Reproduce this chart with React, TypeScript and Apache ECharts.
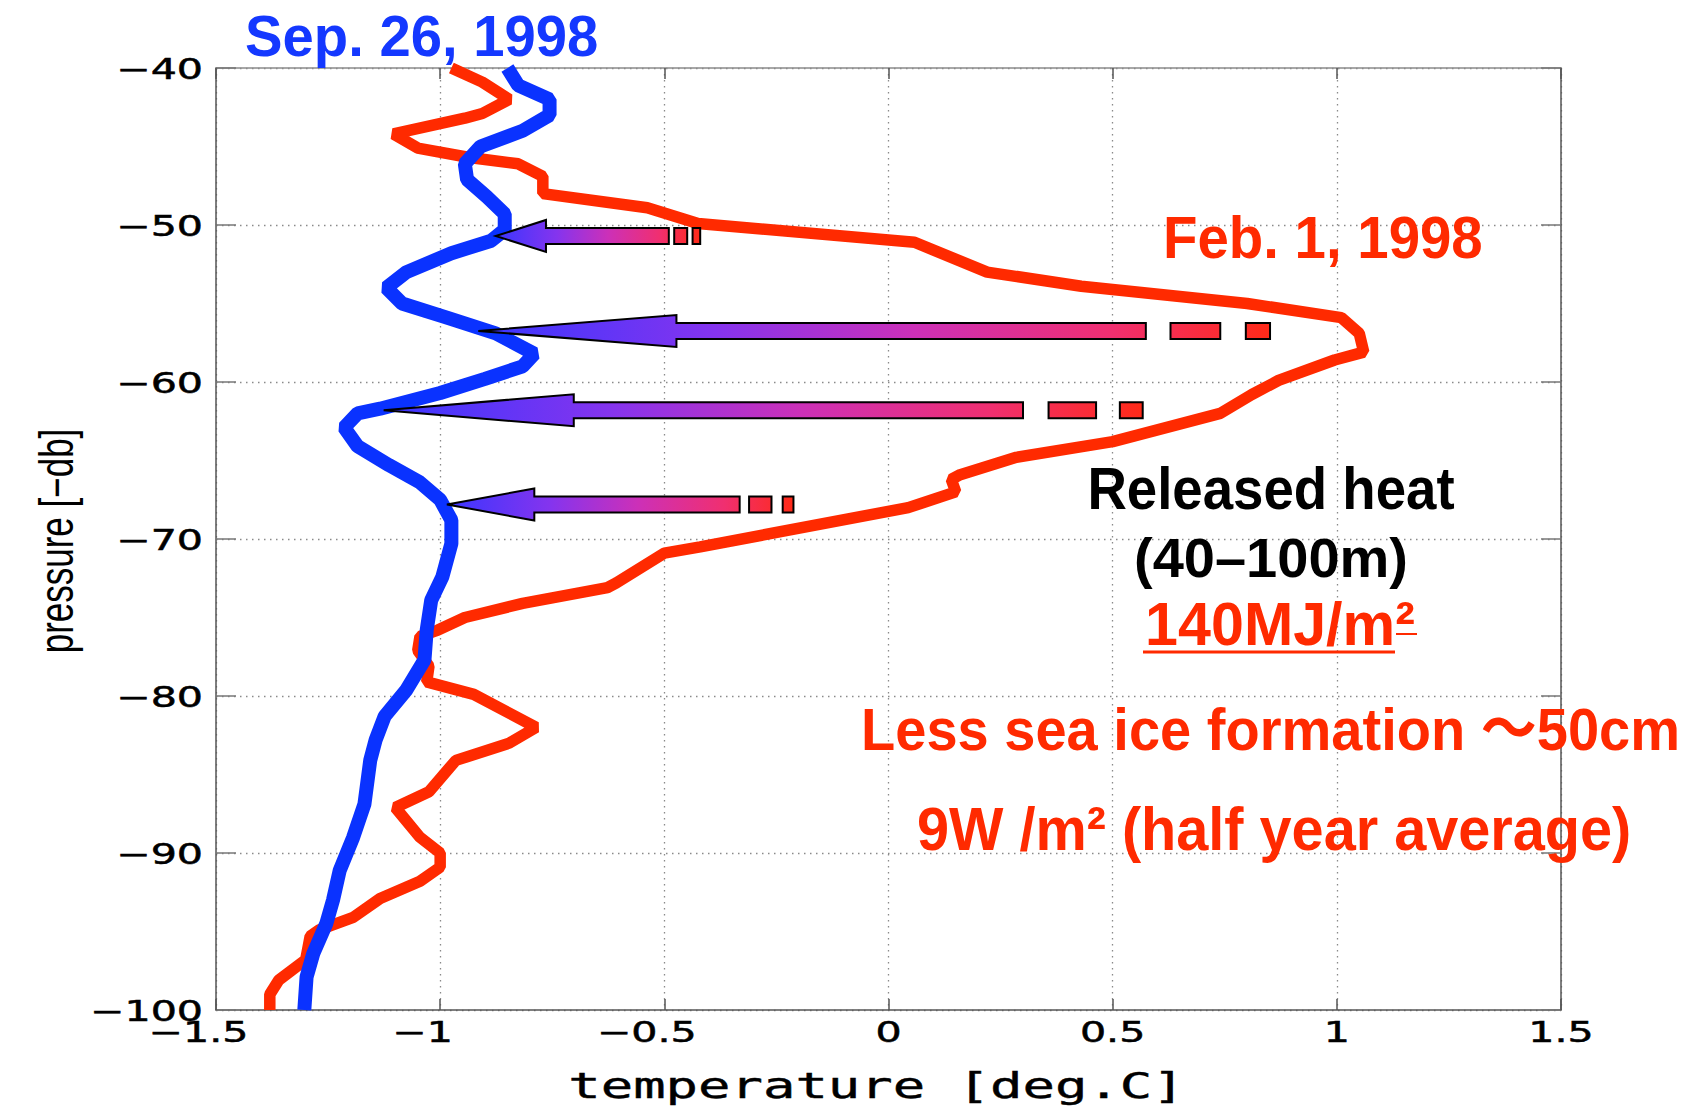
import React, { useEffect, useRef } from "react";
import * as echarts from "echarts";

// ---- axis ticks ----
const xTickValues = [-1.5, -1, -0.5, 0, 0.5, 1, 1.5];
const yTickValues = [-40, -50, -60, -70, -80, -90, -100];

// ---- Feb. 1, 1998 profile (red) ----
const febTemperature = [
  -0.975, -0.906, -0.846, -0.906, -0.945, -1.104, -1.05, -0.935, -0.826, -0.771,
  -0.771, -0.538, -0.425, 0.058, 0.22, 0.43, 0.8, 1.01, 1.05, 1.06,
  0.995, 0.87, 0.81, 0.74, 0.5, 0.285, 0.16, 0.14, 0.15, 0.044,
  -0.42, -0.5, -0.607, -0.627, -0.816, -0.945, -1.005, -1.045, -1.05, -1.025,
  -1.03, -0.925, -0.786, -0.846, -0.965, -1.025, -1.1, -1.045, -1.0, -1.0,
  -1.045, -1.134, -1.194, -1.27, -1.29, -1.3, -1.36, -1.38, -1.38,
];
const febPressure = [
  -40, -40.9, -42, -42.9, -43.2, -44.2, -45.1, -45.7, -46.1, -46.9,
  -48, -48.9, -49.9, -51.1, -53, -53.9, -55, -55.9, -56.9, -58.1,
  -58.6, -59.9, -60.8, -62, -63.8, -64.8, -65.9, -66.2, -67.0, -68.0,
  -70.5, -70.9, -72.8, -73.1, -74.1, -75.0, -75.8, -76.2, -77.1, -78.1,
  -79.1, -79.9, -82.0, -83.0, -84.1, -86.1, -87.1, -89.0, -90.0, -90.9,
  -91.8, -92.9, -94.1, -94.9, -95.3, -96.8, -98.1, -99.0, -100,
];

// ---- Sep. 26, 1998 profile (blue) ----
const sepTemperature = [
  -0.85, -0.826, -0.756, -0.756, -0.816, -0.91, -0.945, -0.94, -0.896, -0.856,
  -0.856, -0.886, -0.975, -1.075, -1.12, -1.085, -0.985, -0.876, -0.79, -0.816,
  -0.9, -1.0, -1.134, -1.184, -1.214, -1.184, -1.114, -1.045, -1.0, -0.975,
  -0.975, -0.995, -1.02, -1.03, -1.035, -1.075, -1.124, -1.144, -1.156, -1.169,
  -1.194, -1.224, -1.239, -1.254, -1.283, -1.298, -1.303,
];
const sepPressure = [
  -40, -41.1, -42, -43, -44, -45, -46.1, -47.1, -48.2, -49.3,
  -50.3, -51, -51.8, -53, -54, -55, -55.9, -56.9, -58.2, -59,
  -59.8, -60.7, -61.7, -62, -62.9, -64.1, -65.3, -66.4, -67.5, -68.8,
  -70.3, -72.4, -73.9, -75.8, -77.7, -79.6, -81.3, -82.8, -84.1, -86.9,
  -89, -91.1, -93, -94.5, -96.4, -97.9, -100,
];

// ---- heat-release arrows ----
const arrowPressure = [-50.7, -56.75, -61.8, -67.8];
const arrowTipTemp = [-0.876, -0.915, -1.126, -0.985];
const arrowHeadTemp = [-0.764, -0.473, -0.702, -0.79];
const arrowShaftEndTemp = [-0.49, 0.574, 0.3, -0.332];
const dashOneStart = [-0.478, 0.629, 0.357, -0.311];
const dashOneEnd = [-0.449, 0.74, 0.463, -0.261];
const dashTwoStart = [-0.437, 0.797, 0.516, -0.236];
const dashTwoEnd = [-0.42, 0.851, 0.567, -0.212];

const RED = "#ff2a00";
const BLUE = "#0a32ff";
const FRAME = "#555";
const GRID = "#8a8a8a";

const annFont = (size: number) =>
  `bold ${size}px "Liberation Sans", Arial, "Noto Sans CJK JP", sans-serif`;

function fmt(v: number): string {
  const s = String(Math.abs(v));
  return v < 0 ? "\u2212" + s : s;
}

function textEl(
  text: string,
  x: number,
  y: number,
  font: string,
  fill: string,
  align: string,
  scaleX = 1,
  extra: any = {},
  styleExtra: any = {}
) {
  return {
    type: "text",
    x,
    y,
    scaleX,
    z: 100,
    ...extra,
    style: {
      text,
      font,
      fill,
      textAlign: align,
      align,
      textVerticalAlign: "middle",
      verticalAlign: "middle",
      ...styleExtra,
    },
  };
}

export default function App() {
  const ref = useRef<HTMLDivElement>(null);

  useEffect(() => {
    const el = ref.current;
    if (!el) return;
    const chart = echarts.init(el, null, { renderer: "svg" });

    const febData = febTemperature.map((t, i) => [t, febPressure[i]]);
    const sepData = sepTemperature.map((t, i) => [t, sepPressure[i]]);
    const arrowData = arrowPressure.map((p, i) => [
      arrowTipTemp[i],
      p,
      arrowHeadTemp[i],
      arrowShaftEndTemp[i],
      dashOneStart[i],
      dashOneEnd[i],
      dashTwoStart[i],
      dashTwoEnd[i],
    ]);

    const gradStops = [
      { offset: 0, color: "#3a36ff" },
      { offset: 0.3, color: "#8534ee" },
      { offset: 0.55, color: "#cc30b8" },
      { offset: 0.8, color: "#f02f70" },
      { offset: 1, color: "#ff2a18" },
    ];

    const valueAxisCommon = {
      type: "value",
      axisLabel: { show: false },
      axisLine: { show: true, onZero: false, lineStyle: { color: FRAME, width: 1.5 } },
    };

    chart.setOption({
      animation: false,
      backgroundColor: "#ffffff",
      grid: { left: 216, top: 68, width: 1345, height: 942, containLabel: false },
      xAxis: [
        {
          ...valueAxisCommon,
          min: -1.5,
          max: 1.5,
          interval: 0.5,
          position: "bottom",
          axisTick: { show: true, inside: true, length: 11, lineStyle: { color: FRAME, width: 1.5 } },
          splitLine: { show: true, lineStyle: { color: GRID, width: 1.3, type: [1.5, 4.5] } },
        },
        {
          ...valueAxisCommon,
          min: -1.5,
          max: 1.5,
          interval: 0.5,
          position: "top",
          axisLine: { show: true, onZero: false, lineStyle: { color: "#8a8a8a", width: 1.5 } },
          axisTick: { show: true, inside: true, length: 11, lineStyle: { color: FRAME, width: 1.5 } },
          splitLine: { show: false },
        },
      ],
      yAxis: [
        {
          ...valueAxisCommon,
          min: -100,
          max: -40,
          interval: 10,
          position: "left",
          axisTick: { show: true, inside: true, length: 20, lineStyle: { color: "#777", width: 1.5 } },
          splitLine: { show: true, lineStyle: { color: GRID, width: 1.3, type: [1.5, 4.5] } },
        },
        {
          ...valueAxisCommon,
          min: -100,
          max: -40,
          interval: 10,
          position: "right",
          axisTick: { show: true, inside: true, length: 20, lineStyle: { color: "#777", width: 1.5 } },
          splitLine: { show: false },
        },
      ],
      series: [
        {
          type: "line",
          name: "Feb. 1, 1998",
          xAxisIndex: 0,
          yAxisIndex: 0,
          data: febData,
          showSymbol: false,
          symbol: "none",
          clip: true,
          lineStyle: { color: RED, width: 11.5, join: "bevel", cap: "butt" },
          z: 3,
        },
        {
          type: "line",
          name: "Sep. 26, 1998",
          xAxisIndex: 0,
          yAxisIndex: 0,
          data: sepData,
          showSymbol: false,
          symbol: "none",
          clip: true,
          lineStyle: { color: BLUE, width: 14, join: "bevel", cap: "butt" },
          z: 4,
        },
        {
          type: "custom",
          name: "released heat",
          xAxisIndex: 0,
          yAxisIndex: 0,
          data: arrowData,
          encode: { x: 0, y: 1 },
          clip: false,
          z: 10,
          renderItem: (params: any, api: any) => {
            const p = api.value(1);
            const tip = api.coord([api.value(0), p]);
            const hb = api.coord([api.value(2), p]);
            const se = api.coord([api.value(3), p]);
            const a1 = api.coord([api.value(4), p]);
            const a2 = api.coord([api.value(5), p]);
            const b1 = api.coord([api.value(6), p]);
            const b2 = api.coord([api.value(7), p]);
            const y = tip[1];
            const hh = 16;
            const sh = 8;
            const grad = new echarts.graphic.LinearGradient(tip[0], 0, b2[0], 0, gradStops, true);
            const st = { fill: grad, stroke: "#000", lineWidth: 2, lineJoin: "miter" };
            return {
              type: "group",
              children: [
                {
                  type: "polygon",
                  shape: {
                    points: [
                      [tip[0], y],
                      [hb[0], y - hh],
                      [hb[0], y - sh],
                      [se[0], y - sh],
                      [se[0], y + sh],
                      [hb[0], y + sh],
                      [hb[0], y + hh],
                    ],
                  },
                  style: st,
                },
                {
                  type: "rect",
                  shape: { x: a1[0], y: y - sh, width: a2[0] - a1[0], height: 2 * sh },
                  style: st,
                },
                {
                  type: "rect",
                  shape: { x: b1[0], y: y - sh, width: b2[0] - b1[0], height: 2 * sh },
                  style: st,
                },
              ],
            };
          },
        },
      ],
    });

    // tick labels and axis titles positioned through the chart's own scales
    const elements: any[] = [];
    const tickFont = '28px "DejaVu Sans", sans-serif';
    const tickStroke = { stroke: "#000", lineWidth: 0.5 };
    yTickValues.forEach((v) => {
      const [px, py] = chart.convertToPixel({ seriesIndex: 0 }, [-1.5, v]) as number[];
      elements.push(textEl(fmt(v), px - 13, py + 1, tickFont, "#000", "right", 1.47, {}, tickStroke));
    });
    xTickValues.forEach((v) => {
      const [px, py] = chart.convertToPixel({ seriesIndex: 0 }, [v, -100]) as number[];
      elements.push(
        textEl(fmt(v), px + (v < 0 ? -17.5 : 0), py + 22, tickFont, "#000", "center", 1.47, {}, tickStroke)
      );
    });
    const [cx] = chart.convertToPixel({ seriesIndex: 0 }, [0, -70]) as number[];
    const [, cy] = chart.convertToPixel({ seriesIndex: 0 }, [-1.5, -70]) as number[];
    elements.push(
      textEl("temperature [deg.C]", cx - 12, 1086, '35px "DejaVu Sans Mono", monospace', "#000", "center", 1.54, {}, {
        stroke: "#000",
        lineWidth: 0.4,
      })
    );
    elements.push(
      textEl("pressure [\u2212db]", 57, cy + 2, '35px "Liberation Sans", Arial, sans-serif', "#000", "center", 1, {
        rotation: Math.PI / 2,
        scaleY: 1.35,
      })
    );

    // annotations
    elements.push(textEl("Sep. 26, 1998", 245, 36, annFont(58), "#1438ff", "left", 0.97));
    elements.push(textEl("Feb. 1, 1998", 1163, 237, annFont(60), RED, "left", 0.94));
    elements.push(textEl("Released heat", 1271, 488, annFont(60), "#000", "center", 0.91));
    elements.push(textEl("(40\u2013100m)", 1271, 557, annFont(56), "#000", "center", 1));
    elements.push(textEl("140MJ/m\u00b2", 1280, 624, annFont(62), RED, "center", 0.955));
    elements.push({
      type: "line",
      z: 100,
      shape: { x1: 1143, y1: 652, x2: 1395, y2: 652 },
      style: { stroke: RED, lineWidth: 3 },
    });
    elements.push({
      type: "line",
      z: 100,
      shape: { x1: 1396, y1: 634, x2: 1417, y2: 634 },
      style: { stroke: RED, lineWidth: 2 },
    });
    elements.push(textEl("Less sea ice formation \uff5e50cm", 861, 729, annFont(60), RED, "left", 0.934));
    elements.push(textEl("9W /m\u00b2 (half year average)", 917, 829, annFont(61), RED, "left", 0.945));

    chart.setOption({ graphic: { elements } });

    return () => {
      chart.dispose();
    };
  }, []);

  return (
    <div
      ref={ref}
      style={{ position: "fixed", left: 0, top: 0, width: 1694, height: 1108, background: "#fff" }}
    />
  );
}
